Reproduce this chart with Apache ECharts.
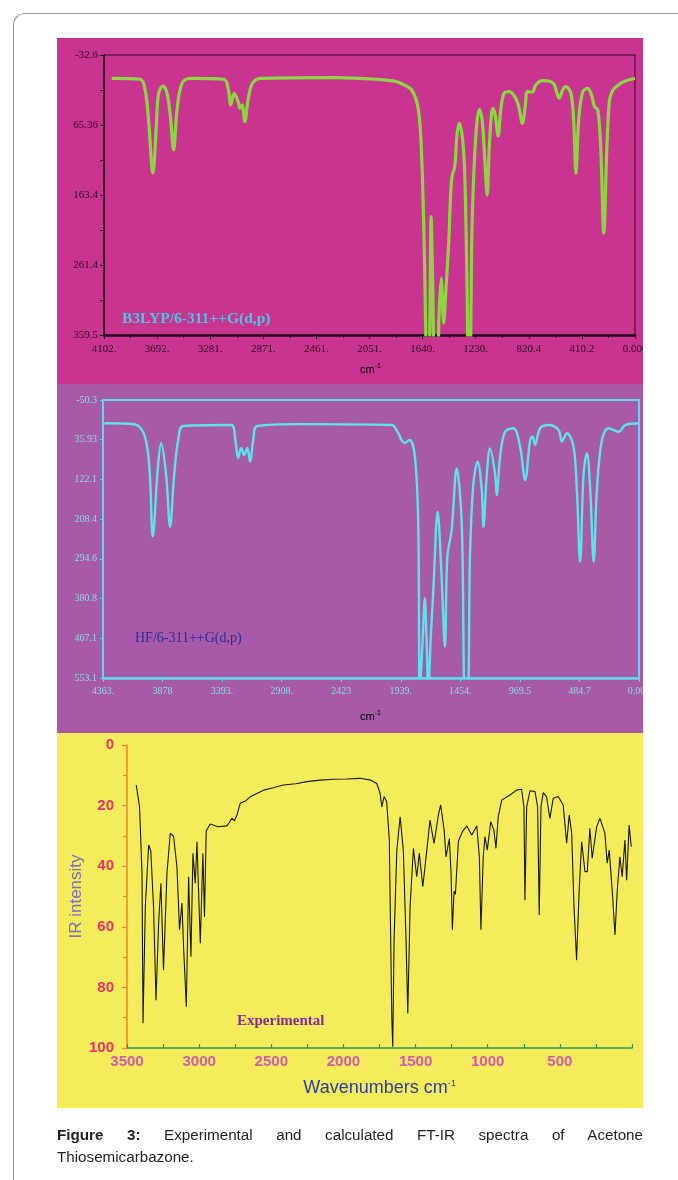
<!DOCTYPE html>
<html>
<head>
<meta charset="utf-8">
<script src="https://cdn.jsdelivr.net/npm/echarts@6/dist/echarts.min.js"></script>
<style>
html,body{margin:0;padding:0;background:#fff;}
#wrap{position:relative;width:678px;height:1180px;overflow:hidden;background:#fff;}
#frame{position:absolute;left:13px;top:13px;width:720px;height:1220px;border-left:1px solid #9a9a9a;border-top:1px solid #9a9a9a;border-top-left-radius:12px;}
#chart{position:absolute;left:0;top:0;width:678px;height:1180px;}
#cap{position:absolute;left:57px;top:1124px;width:586px;font-family:"Liberation Sans",Arial,sans-serif;font-size:15.2px;line-height:22px;color:#231f20;}
#cap .l1{text-align:justify;text-align-last:justify;}
</style>
</head>
<body>
<div id="wrap">
<div id="frame"></div>
<div id="chart"></div>
<div id="cap"><div class="l1"><b>Figure 3:</b> Experimental and calculated FT-IR spectra of Acetone</div><div>Thiosemicarbazone.</div></div>
</div>
<script>
// ---------- B3LYP/6-311++G(d,p) calculated spectrum ----------
const b3lypWn = [4042,3822,3784,3758,3724,3698,3680,3646,3615,3589,3564,3538,3499,3434,3175,3141,3123,3097,3066,3051,3035,3014,2989,2955,2890,2321,1984,1860,1810,1725,1673,1647,1626,1616,1600,1585,1575,1562,1544,1527,1515,1497,1478,1461,1440,1426,1414,1393,1375,1357,1336,1320,1311,1297,1282,1266,1259,1233,1202,1181,1160,1142,1124,1098,1080,1057,1037,1012,973,932,901,870,847,831,792,767,715,650,622,585,559,534,495,474,456,435,404,365,334,313,287,264,241,218,197,171,145,93,0];
const b3lypInt = [0,1.4,16.4,58.4,133,67.8,21,10.8,21,53.8,100.4,44.4,7,0,1.4,16.4,37.4,21,32.8,42,37.4,60.8,30.4,7,0,-1,1.4,4,7,16.4,44.4,114.4,254.5,359,470,352,193.8,297,450,450,338,279.7,342.7,297,233.5,170,137.8,123.8,79.4,63,79.4,114.4,160.7,297,520,310,207.8,90.6,43.4,58.4,114.4,163.5,90.6,42,51.4,80.8,44.4,21,18.8,24.8,37.4,63,37.4,18.8,19.2,9.4,3.4,4.8,9.4,28,16.4,11.8,21,58.4,133,58.4,18.8,14,24.8,39.8,44.4,100.4,216.7,100.4,30.4,16.4,11.8,5.2,0];
const b3XTickLabels = ['4102.','3692.','3281.','2871.','2461.','2051.','1640.','1230.','820.4','410.2','0.000'];
const b3YTickValues = [-32.6,65.425,163.45,261.475,359.5];
const b3YTickLabels = ['-32.6','65.36','163.4','261.4','359.5'];

// ---------- HF/6-311++G(d,p) calculated spectrum ----------
const hfWn = [4352,4108,4026,3985,3958,3917,3890,3849,3817,3784,3751,3710,3320,3286,3263,3238,3213,3189,3165,3140,3107,2748,2014,1965,1933,1908,1867,1824,1797,1784,1761,1743,1729,1715,1696,1674,1639,1607,1580,1560,1525,1484,1443,1417,1394,1376,1348,1313,1280,1266,1240,1213,1172,1158,1131,1090,1022,968,927,886,867,846,805,736,655,628,587,533,506,479,451,424,397,369,343,302,247,166,112,2];
const hfInt = [0.3,2.4,25.7,98,246,98,43.7,112.5,224.7,112.5,36.5,6,4,36.5,75.6,54,69,54,84,36.5,6,2,4,19,36.5,43,36.5,73,217,580,470,380,470,580,470,362,192,333,485,290,232,98,217,580,580,290,130.5,83.6,145,225,116,54.6,109,156,73,18.5,11,51,123.3,36.5,29,47,11,4,14.8,40,22,51,145,301,109,65.4,145,301,145,36.5,11,18.5,4,0.3];
const hfXTickLabels = ['4363.','3878','3393.','2908.','2423','1939.','1454.','969.5','484.7','0.000'];
const hfYTickValues = [-50.3,35.9,122.1,208.3,294.5,380.7,466.9,553.1];
const hfYTickLabels = ['-50.3','35.93','122.1','208.4','294.6','380.8','467.1','553.1'];

// ---------- Experimental spectrum ----------
const expWn = [3436,3413,3396,3389,3373,3350,3335,3316,3299,3281,3265,3247,3223,3200,3177,3154,3136,3119,3108,3089,3073,3057,3043,3027,3015,2992,2974,2963,2951,2923,2870,2807,2790,2773,2755,2738,2715,2680,2646,2600,2554,2480,2416,2330,2254,2160,2069,1980,1885,1810,1769,1746,1734,1718,1700,1682,1665,1658,1649,1630,1607,1585,1566,1554,1538,1515,1492,1474,1450,1422,1400,1372,1342,1326,1302,1289,1266,1254,1245,1233,1224,1203,1173,1145,1111,1076,1058,1047,1031,1019,1003,979,957,943,927,903,846,799,765,749,742,730,707,672,654,643,631,615,592,569,546,511,477,453,435,418,402,384,366,349,326,310,292,276,264,245,222,188,172,158,134,118,102,84,68,49,37,20,5];
const expInt = [13.2,20.4,42.3,91.8,53.4,33,35,53.4,84.2,58.8,45.6,74.3,42.3,29.1,30.2,40.2,61,52.2,66.6,86.4,43.5,69.9,35.7,45.6,31.9,65.4,35.7,56.7,28.3,26.1,27,26.7,25.5,24.2,25,23.1,19.2,18.5,17.1,16,14.9,14,13.2,12.8,12.1,11.6,11.3,11.2,11,11.6,12.7,15.9,20.4,17,18.7,31.4,89.7,99.6,64.4,34.7,23.7,34.7,64.4,88.6,53.4,34.1,43.5,35.7,46.8,34.7,24.8,32.5,23.1,19.8,28.1,36.9,30.9,42.3,61,48.2,49.3,31.7,28.4,26.7,29.7,26.7,36.9,61,36.9,30.2,34.7,25.3,28.1,34.1,23.7,18.2,16.5,14.9,14.6,20.4,51.2,20.4,15.1,15.4,20.4,56.1,20.4,15.7,17.1,24.2,17.6,17,19.8,32.4,23.1,29.1,53.4,71,47.9,31.9,41.8,41.8,27.5,37.4,37.4,27,24.2,29.1,39,34.7,50.1,62.7,47.9,36.9,43.5,31.4,44.6,26.4,33.6];
const expYLabels = [0,20,40,60,80,100];

function pairs(xs, ys){ const n=Math.min(xs.length, ys.length); const out=[]; for(let i=0;i<n;i++) out.push([xs[i], ys[i]]); return out; }
function lookup(vals, labels){ return function(v){ for(let i=0;i<vals.length;i++){ if(Math.abs(vals[i]-v)<0.5) return labels[i]; } return ''; }; }

const chart = echarts.init(document.getElementById('chart'), null, {renderer:'canvas'});

const dark = '#2a0c22';
const cyan = '#5ED8E8';
const cyanTxt = '#8ADAE8';

const option = {
  animation: false,
  backgroundColor: 'transparent',
  graphic: [
    {type:'rect', z:-100, shape:{x:57,y:38,width:586,height:346}, style:{fill:'#C8348F'}},
    {type:'rect', z:-100, shape:{x:57,y:384,width:586,height:349}, style:{fill:'#A65AA8'}},
    {type:'rect', z:-100, shape:{x:57,y:733,width:586,height:375}, style:{fill:'#F5EC5C'}},
    {type:'rect', z:100, shape:{x:643,y:38,width:40,height:1070}, style:{fill:'#ffffff'}},
    {type:'text', z:50, left:122, top:311, style:{text:'B3LYP/6-311++G(d,p)', fill:'#45C8E8', font:'bold 15.5px "Liberation Serif", serif'}},
    {type:'text', z:50, left:135, top:631, style:{text:'HF/6-311++G(d,p)', fill:'#2B2B9B', font:'14px "Liberation Serif", serif'}},
    {type:'text', z:50, left:360, top:363, style:{text:'{a|cm}{b|-1}', rich:{a:{fontSize:11, fontFamily:'Liberation Sans', color:dark}, b:{fontSize:7, fontFamily:'Liberation Sans', color:dark, padding:[0,0,7,0]}}}},
    {type:'text', z:50, left:360, top:710, style:{text:'{a|cm}{b|-1}', rich:{a:{fontSize:11, fontFamily:'Liberation Sans', color:cyanTxt}, b:{fontSize:7, fontFamily:'Liberation Sans', color:cyanTxt, padding:[0,0,7,0]}}}},
    {type:'text', z:50, left:237, top:1014, style:{text:'Experimental', fill:'#8A2A9A', font:'bold 15px "Liberation Serif", serif'}}
  ],
  grid: [
    {left:104, top:55, width:531, height:280, show:true, borderColor:dark, borderWidth:1, backgroundColor:'transparent'},
    {left:103, top:400, width:536, height:278, show:true, borderColor:cyan, borderWidth:2, backgroundColor:'transparent'},
    {left:127, top:745, width:505, height:303, show:false}
  ],
  xAxis: [
    {gridIndex:0, type:'value', min:0, max:4102, interval:410.2, inverse:true,
     axisLine:{show:true, onZero:false, lineStyle:{color:dark, width:2.5}},
     axisTick:{show:true, length:4, lineStyle:{color:dark}},
     minorTick:{show:true, splitNumber:2, length:3, lineStyle:{color:dark}},
     splitLine:{show:false},
     axisLabel:{color:dark, fontFamily:'Liberation Serif', fontSize:11, margin:9,
       formatter:function(v){ const i=Math.round(v/410.2); return b3XTickLabels[10-i] || ''; }}},
    {gridIndex:1, type:'value', min:0, max:4363, interval:4363/9, inverse:true,
     axisLine:{show:true, onZero:false, lineStyle:{color:cyan, width:2.5}},
     axisTick:{show:true, length:4, lineStyle:{color:cyan}},
     splitLine:{show:false},
     axisLabel:{color:cyanTxt, fontFamily:'Liberation Serif', fontSize:10, margin:8,
       formatter:function(v){ const i=Math.round(v/(4363/9)); return hfXTickLabels[9-i] || ''; }}},
    {gridIndex:2, type:'value', min:0, max:3500, interval:250, inverse:true,
     axisLine:{show:true, onZero:false, lineStyle:{color:'#2E9A48', width:1.5}},
     axisTick:{show:true, inside:true, length:4, lineStyle:{color:'#2E9A48', width:1.2}},
     splitLine:{show:false},
     axisLabel:{color:'#D45AAE', fontFamily:'Liberation Sans', fontWeight:'bold', fontSize:15, margin:6,
       formatter:function(v){ return (v>0 && v%500===0) ? String(v) : ''; }},
     name:'{a|Wavenumbers cm}{b|-1}', nameLocation:'middle', nameGap:31, nameMoveOverlap:false,
     nameTextStyle:{rich:{a:{fontSize:18, fontFamily:'Liberation Sans', color:'#2D3E9C'}, b:{fontSize:9, fontFamily:'Liberation Sans', color:'#2D3E9C', padding:[0,0,10,0]}}}}
  ],
  yAxis: [
    {gridIndex:0, type:'value', min:-32.6, max:359.5, inverse:true,
     axisLine:{show:true, onZero:false, lineStyle:{color:dark, width:1.5}},
     axisTick:{show:true, length:4, customValues:[-32.6,16.4,65.425,114.44,163.45,212.46,261.475,310.49,359.5], lineStyle:{color:dark}},
     splitLine:{show:false},
     axisLabel:{color:dark, fontFamily:'Liberation Serif', fontSize:11, margin:6, customValues:b3YTickValues,
       formatter:lookup(b3YTickValues, b3YTickLabels)}},
    {gridIndex:1, type:'value', min:-50.3, max:553.1, inverse:true,
     axisLine:{show:true, onZero:false, lineStyle:{color:cyan, width:2}},
     axisTick:{show:true, length:3, customValues:hfYTickValues, lineStyle:{color:cyan}},
     splitLine:{show:false},
     axisLabel:{color:cyanTxt, fontFamily:'Liberation Serif', fontSize:10, margin:6, customValues:hfYTickValues,
       formatter:lookup(hfYTickValues, hfYTickLabels)}},
    {gridIndex:2, type:'value', min:0, max:100, interval:20, inverse:true,
     axisLine:{show:true, onZero:false, lineStyle:{color:'#F0852A', width:1.5}},
     axisTick:{show:true, length:5, lineStyle:{color:'#F0852A', width:1.2}},
     minorTick:{show:true, splitNumber:2, length:4, lineStyle:{color:'#F0852A', width:1.2}},
     splitLine:{show:false},
     axisLabel:{color:'#E8326A', fontFamily:'Liberation Sans', fontWeight:'bold', fontSize:15, margin:13,
       formatter:function(v){ return expYLabels.indexOf(v)>=0 ? String(v) : ''; }},
     name:'IR intensity', nameLocation:'middle', nameRotate:90, nameGap:42, nameMoveOverlap:false,
     nameTextStyle:{color:'#7A6CC0', fontSize:17, fontFamily:'Liberation Sans'}}
  ],
  series: [
    {type:'line', xAxisIndex:0, yAxisIndex:0, data:pairs(b3lypWn,b3lypInt), smooth:0.35, symbol:'none', clip:true,
     lineStyle:{color:'#8CD640', width:3.2}},
    {type:'line', xAxisIndex:1, yAxisIndex:1, data:pairs(hfWn,hfInt), smooth:0.35, symbol:'none', clip:true,
     lineStyle:{color:'#5EE2EC', width:2.4}},
    {type:'line', xAxisIndex:2, yAxisIndex:2, data:pairs(expWn,expInt), smooth:false, symbol:'none', clip:true,
     lineStyle:{color:'#1a1a1a', width:1.1}}
  ]
};
chart.setOption(option);
</script>
</body>
</html>
